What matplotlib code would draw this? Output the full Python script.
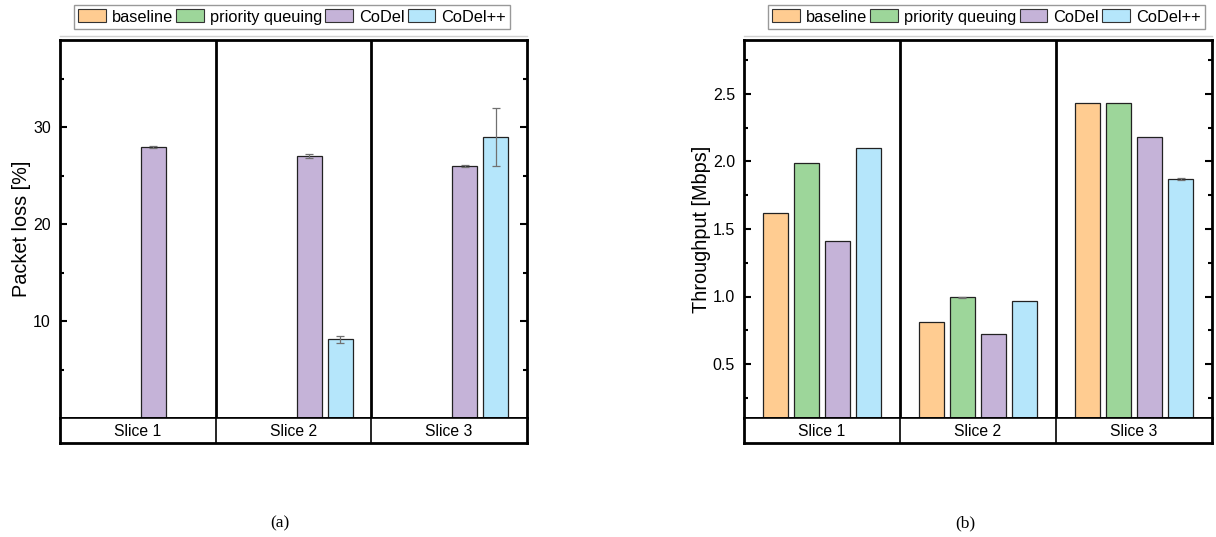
import matplotlib
matplotlib.use("Agg")
import matplotlib.pyplot as plt
from matplotlib.patches import Patch
from matplotlib.lines import Line2D
import numpy as np

plt.rcParams['font.family'] = ['Liberation Sans', 'DejaVu Sans']

series = ["baseline", "priority queuing", "CoDel", "CoDel++"]
colors = ["#FFCC91", "#9DD69A", "#C5B3D8", "#B5E6FB"]
slices = ["Slice 1", "Slice 2", "Slice 3"]

# Packet loss [%] per series, per slice (NaN = no bar)
loss = {
    "baseline":         [np.nan, np.nan, np.nan],
    "priority queuing": [np.nan, np.nan, np.nan],
    "CoDel":            [28.0, 27.0, 26.0],
    "CoDel++":          [np.nan, 8.1, 29.0],
}
loss_err = {
    "baseline":         [0, 0, 0],
    "priority queuing": [0, 0, 0],
    "CoDel":            [0.1, 0.2, 0.1],
    "CoDel++":          [0, 0.35, 3.0],
}
# Throughput [Mbps]
thr = {
    "baseline":         [1.62, 0.81, 2.43],
    "priority queuing": [1.99, 0.995, 2.43],
    "CoDel":            [1.41, 0.72, 2.18],
    "CoDel++":          [2.10, 0.965, 1.87],
}
thr_err = {
    "baseline":         [0, 0, 0],
    "priority queuing": [0, 0.004, 0],
    "CoDel":            [0, 0, 0],
    "CoDel++":          [0, 0, 0.006],
}

W, H = 1216, 537
fig = plt.figure(figsize=(W / 100, H / 100), dpi=100)


def make_panel(x0, x1, values, errs, ylim, major, minor, ylabel, fmt, caption, cap_x, leg_x0, leg_x1):
    top, split, bot = 40, 418, 443
    ax = fig.add_axes([x0 / W, (H - split) / H, (x1 - x0) / W, (split - top) / H])
    sx = fig.add_axes([x0 / W, (H - bot) / H, (x1 - x0) / W, (bot - split) / H], sharex=ax)
    offsets = [-0.3, -0.1, 0.1, 0.3]
    xs = np.arange(len(slices))
    for i, s in enumerate(series):
        v = np.array(values[s], dtype=float)
        e = np.array(errs[s], dtype=float)
        mask = ~np.isnan(v)
        ax.bar(xs[mask] + offsets[i], v[mask] - ylim[0], bottom=ylim[0], width=0.16,
               color=colors[i], edgecolor="#222222", linewidth=0.9, zorder=2)
        em = mask & (e > 0)
        if em.any():
            ax.errorbar(xs[em] + offsets[i], v[em], yerr=e[em], fmt="none",
                        ecolor="#707070", elinewidth=0.9, capsize=2.6, capthick=0.9, zorder=3)
    ax.set_xlim(-0.5, len(slices) - 0.5)
    ax.set_ylim(*ylim)
    ax.set_yticks(major)
    ax.set_yticklabels([fmt(t) for t in major])
    ax.set_yticks(minor, minor=True)
    ax.tick_params(axis="y", which="major", direction="in", length=5, width=1.5,
                   left=True, right=True, labelsize=11.5, pad=6.5)
    ax.tick_params(axis="y", which="minor", direction="in", length=3, width=1.5,
                   left=True, right=True)
    ax.tick_params(axis="x", which="both", bottom=False, top=False, labelbottom=False)
    ax.set_ylabel(ylabel, fontsize=14.3, labelpad=1.5)
    for sp in ax.spines.values():
        sp.set_linewidth(2)
    for d in [0.5, 1.5]:
        ax.axvline(d, color="black", lw=2, zorder=4)
        sx.axvline(d, color="black", lw=1.2)
    sx.set_ylim(0, 1)
    sx.set_yticks([])
    sx.tick_params(axis="x", which="both", bottom=False, top=False, labelbottom=False)
    for sp in ["left", "right", "bottom"]:
        sx.spines[sp].set_linewidth(2)
    sx.spines["top"].set_linewidth(1.2)
    for i, lab in enumerate(slices):
        sx.text(i, 0.45, lab, ha="center", va="center", fontsize=11.3)
    # legend
    handles = [Patch(facecolor=c, edgecolor="#333333", linewidth=0.8, label=s)
               for s, c in zip(series, colors)]
    fig.legend(handles=handles, loc="center",
               bbox_to_anchor=((leg_x0 + leg_x1) / 2 / W, 1 - 17 / H),
               ncol=4, fontsize=11.8, frameon=True, fancybox=False,
               edgecolor="#808080", handlelength=1.7, handleheight=0.85,
               handletextpad=0.37, columnspacing=0.18, borderpad=0.25,
               borderaxespad=0.0)
    fig.add_artist(Line2D([x0 / W, x1 / W], [1 - 36 / H, 1 - 36 / H],
                          color="#d0d0d0", lw=1))
    fig.text(cap_x / W, 1 - 523 / H, caption, ha="center", va="center",
             fontsize=12.5, family=["Liberation Serif", "DejaVu Serif"])
    return ax


make_panel(60, 527, loss, loss_err, (0, 39), [10, 20, 30], [5, 15, 25, 35],
           "Packet loss [%]", lambda t: f"{t:g}", "(a)", 280, 72, 512)
make_panel(744, 1212, thr, thr_err, (0.1, 2.9), [0.5, 1.0, 1.5, 2.0, 2.5],
           [0.25, 0.75, 1.25, 1.75, 2.25, 2.75],
           "Throughput [Mbps]", lambda t: f"{t:.1f}", "(b)", 965, 761, 1212)

fig.savefig("out.png", dpi=100)
